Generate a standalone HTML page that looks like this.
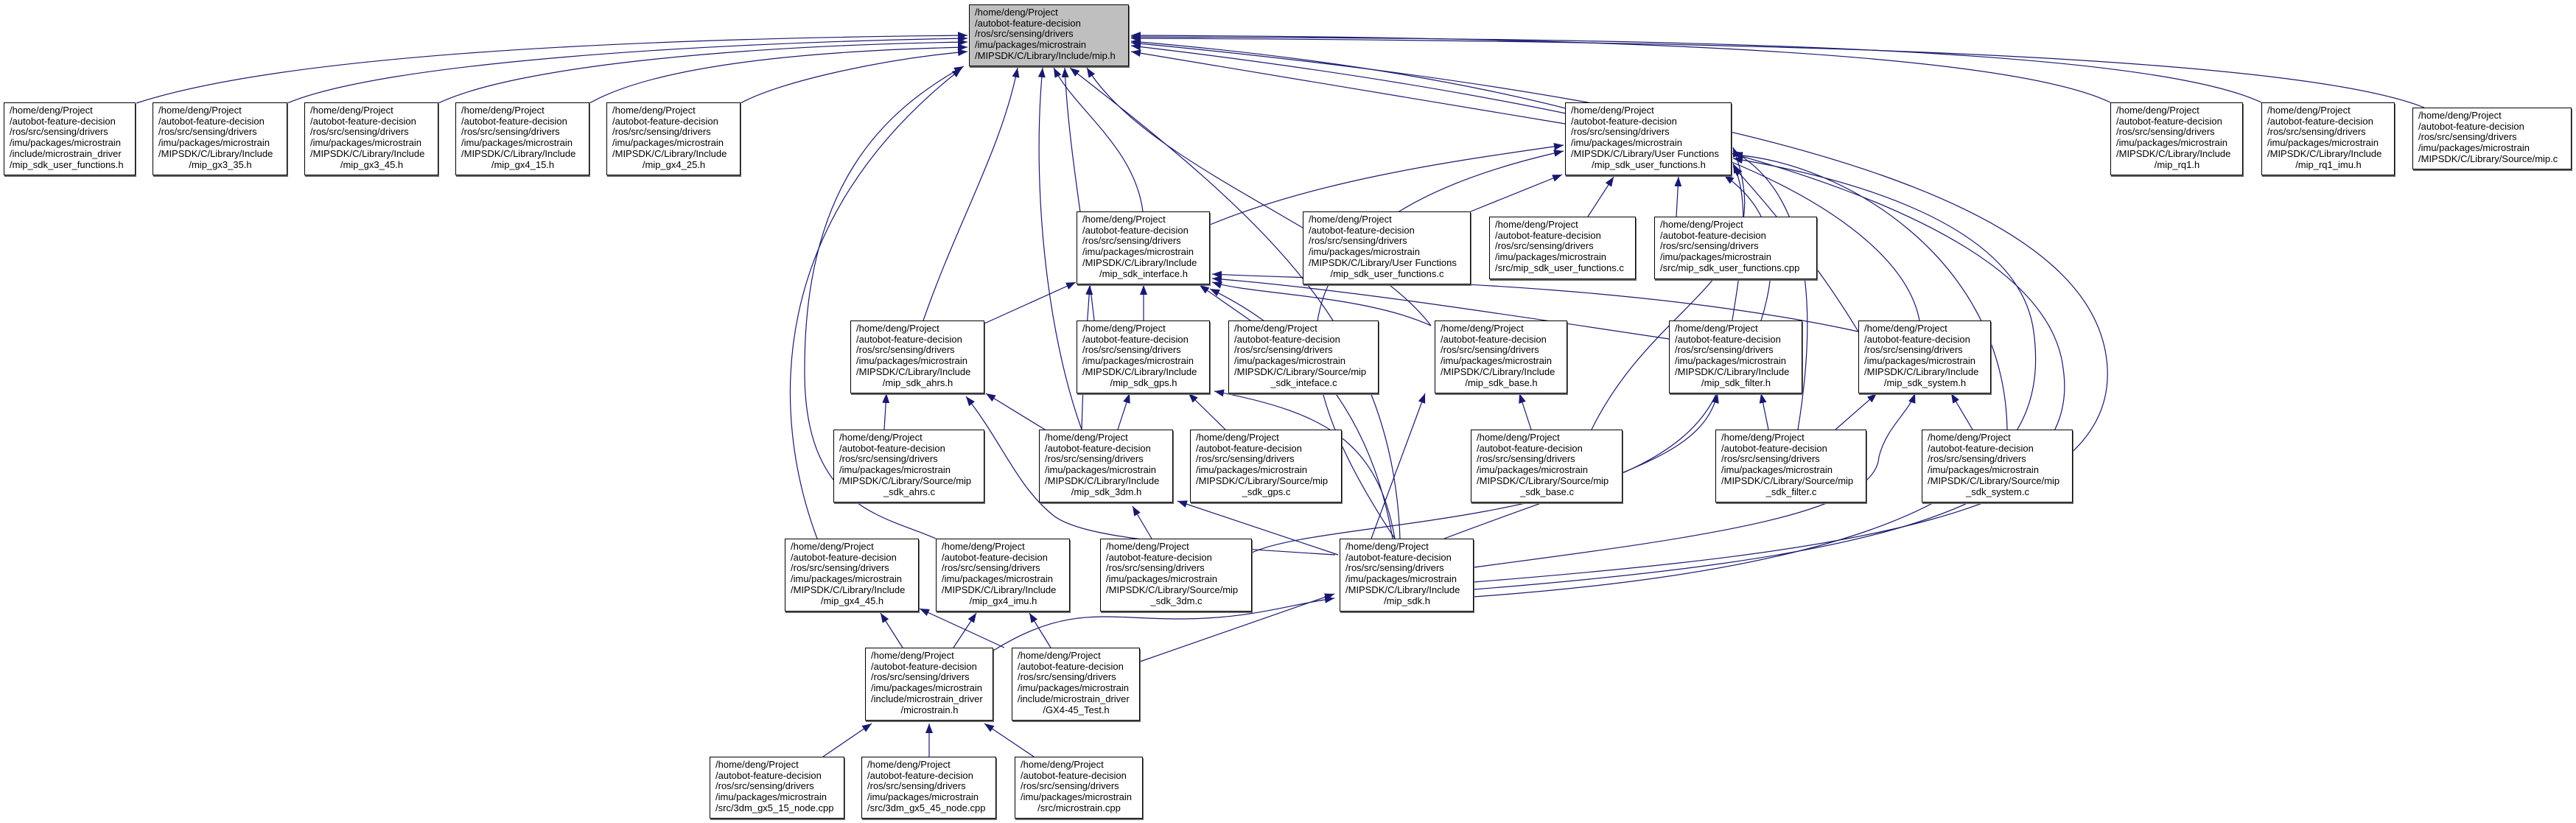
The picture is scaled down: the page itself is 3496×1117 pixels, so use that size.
<!DOCTYPE html>
<html><head><meta charset="utf-8"><style>
html,body{margin:0;padding:0;background:#fff;}
body{width:3496px;height:1117px;position:relative;overflow:hidden;font-family:"Liberation Sans",Arial,sans-serif;}
.n{position:absolute;box-sizing:border-box;border:1px solid #000;background:#fff;box-shadow:1px 2px 0 #666;font-size:13px;line-height:14.7px;padding:3px 6px 0 7px;white-space:nowrap;color:#000;}
.n.m{background:#bfbfbf;}
.n .c{text-align:center;}
svg{position:absolute;left:0;top:0;}
</style></head><body>
<svg width="3496" height="1117" viewBox="0 0 3496 1117">
<defs><marker id="a" markerUnits="userSpaceOnUse" markerWidth="14" markerHeight="10" refX="13" refY="5" orient="auto"><path d="M0,0 L13,5 L0,10 z" fill="#191970"/></marker></defs>
<g fill="none" stroke="#191970" stroke-width="1.2" marker-end="url(#a)">
<path d="M185,140 C400,70 900,52 1313,48"/>
<path d="M390,140 C520,85 950,58 1313,52"/>
<path d="M595,140 C700,90 1000,62 1313,57"/>
<path d="M800,140 C880,95 1050,70 1313,64"/>
<path d="M1005,140 C1060,110 1200,80 1313,70"/>
<path d="M1109,731 C1045,560 1040,300 1305,93"/>
<path d="M1270,731 C1200,700 1090,690 1092,500 C1092,250 1200,150 1308,90"/>
<path d="M1253,435 C1300,300 1360,200 1381,92"/>
<path d="M1468,583 C1420,450 1400,250 1415,92"/>
<path d="M1485,435 C1470,300 1450,200 1445,92"/>
<path d="M1942,442 C1850,320 1560,230 1475,92"/>
<path d="M1900,731 C1890,450 1720,300 1452,92"/>
<path d="M2124,168 L1535,70"/>
<path d="M2864,139 C2700,60 2000,50 1535,48"/>
<path d="M3069,139 C2900,60 2200,52 1535,50"/>
<path d="M3290,146 C3100,70 2300,55 1535,52"/>
<path d="M2605,435 C2580,300 2300,120 1535,56"/>
<path d="M2000,790 C2500,750 2870,700 2860,500 C2850,300 2500,150 1535,58"/>
<path d="M2000,800 C2500,760 2830,700 2800,500 C2780,330 2450,170 1535,62"/>
<path d="M1551,287 C1540,200 1460,150 1430,92"/>
<path d="M1336,439 L1460,383"/>
<path d="M1468,583 C1470,500 1475,450 1479,387"/>
<path d="M1552,435 L1552,387"/>
<path d="M1697,435 L1628,387"/>
<path d="M1942,442 C1850,400 1700,400 1645,383"/>
<path d="M2265,460 C2000,420 1800,390 1645,378"/>
<path d="M2522,450 C2200,380 1800,380 1645,372"/>
<path d="M1890,731 C1850,500 1700,420 1642,392"/>
<path d="M1642,305 C1800,240 2000,215 2122,197"/>
<path d="M1893,731 C1740,500 1700,300 2122,205"/>
<path d="M1996,287 L2120,237"/>
<path d="M2155,294 L2190,240"/>
<path d="M2275,294 L2278,240"/>
<path d="M2160,583 C2250,400 2420,380 2352,200"/>
<path d="M2440,583 C2470,400 2450,260 2352,205"/>
<path d="M2724,583 C2720,350 2500,220 2352,210"/>
<path d="M2000,810 C2700,760 2780,600 2760,450 C2740,300 2500,240 2352,215"/>
<path d="M1697,751 C1800,700 2300,720 2340,500 C2360,380 2380,280 2352,222"/>
<path d="M2390,435 C2420,340 2400,280 2340,238"/>
<path d="M2522,450 C2480,380 2420,300 2352,226"/>
<path d="M1200,583 L1203,534"/>
<path d="M1418,583 L1338,534"/>
<path d="M1517,583 L1533,534"/>
<path d="M1663,583 L1613,534"/>
<path d="M2078,583 L2062,534"/>
<path d="M2400,583 L2390,534"/>
<path d="M1960,731 C2200,640 2310,620 2331,534"/>
<path d="M2491,583 L2547,534"/>
<path d="M2677,583 L2648,534"/>
<path d="M2000,770 C2300,730 2545,700 2550,620 C2560,580 2590,560 2599,534"/>
<path d="M1861,731 L1934,534"/>
<path d="M1893,731 C1870,600 1800,560 1648,531"/>
<path d="M1812,753 C1600,740 1470,730 1430,700 C1380,660 1360,600 1311,538"/>
<path d="M1816,753 L1598,680"/>
<path d="M1563,731 L1537,687"/>
<path d="M1225,879 L1195,832"/>
<path d="M1294,879 L1325,832"/>
<path d="M1348,883 C1450,820 1500,840 1600,840 C1700,840 1750,820 1811,812"/>
<path d="M1363,879 L1248,826"/>
<path d="M1426,879 L1397,832"/>
<path d="M1547,898 L1811,806"/>
<path d="M1117,1027 L1183,982"/>
<path d="M1261,1027 L1261,982"/>
<path d="M1403,1027 L1336,982"/>
</g>
</svg>

<div class="n m" style="left:1315px;top:6px;width:217px;height:84px">/home/deng/Project<br>/autobot-feature-decision<br>/ros/src/sensing/drivers<br>/imu/packages/microstrain<br>/MIPSDK/C/Library/Include/mip.h</div>

<div class="n" style="left:5px;top:139px;width:179px;height:99px">/home/deng/Project<br>/autobot-feature-decision<br>/ros/src/sensing/drivers<br>/imu/packages/microstrain<br>/include/microstrain_driver<br>/mip_sdk_user_functions.h</div>
<div class="n" style="left:207px;top:139px;width:183px;height:99px">/home/deng/Project<br>/autobot-feature-decision<br>/ros/src/sensing/drivers<br>/imu/packages/microstrain<br>/MIPSDK/C/Library/Include<div class="c">/mip_gx3_35.h</div></div>
<div class="n" style="left:413px;top:139px;width:182px;height:99px">/home/deng/Project<br>/autobot-feature-decision<br>/ros/src/sensing/drivers<br>/imu/packages/microstrain<br>/MIPSDK/C/Library/Include<div class="c">/mip_gx3_45.h</div></div>
<div class="n" style="left:618px;top:139px;width:182px;height:99px">/home/deng/Project<br>/autobot-feature-decision<br>/ros/src/sensing/drivers<br>/imu/packages/microstrain<br>/MIPSDK/C/Library/Include<div class="c">/mip_gx4_15.h</div></div>
<div class="n" style="left:823px;top:139px;width:182px;height:99px">/home/deng/Project<br>/autobot-feature-decision<br>/ros/src/sensing/drivers<br>/imu/packages/microstrain<br>/MIPSDK/C/Library/Include<div class="c">/mip_gx4_25.h</div></div>
<div class="n" style="left:2124px;top:139px;width:226px;height:99px">/home/deng/Project<br>/autobot-feature-decision<br>/ros/src/sensing/drivers<br>/imu/packages/microstrain<br>/MIPSDK/C/Library/User Functions<div class="c">/mip_sdk_user_functions.h</div></div>
<div class="n" style="left:2864px;top:139px;width:180px;height:99px">/home/deng/Project<br>/autobot-feature-decision<br>/ros/src/sensing/drivers<br>/imu/packages/microstrain<br>/MIPSDK/C/Library/Include<div class="c">/mip_rq1.h</div></div>
<div class="n" style="left:3069px;top:139px;width:181px;height:99px">/home/deng/Project<br>/autobot-feature-decision<br>/ros/src/sensing/drivers<br>/imu/packages/microstrain<br>/MIPSDK/C/Library/Include<div class="c">/mip_rq1_imu.h</div></div>
<div class="n" style="left:3274px;top:146px;width:216px;height:84px">/home/deng/Project<br>/autobot-feature-decision<br>/ros/src/sensing/drivers<br>/imu/packages/microstrain<br>/MIPSDK/C/Library/Source/mip.c</div>

<div class="n" style="left:1461px;top:287px;width:181px;height:99px">/home/deng/Project<br>/autobot-feature-decision<br>/ros/src/sensing/drivers<br>/imu/packages/microstrain<br>/MIPSDK/C/Library/Include<div class="c">/mip_sdk_interface.h</div></div>
<div class="n" style="left:1768px;top:287px;width:228px;height:99px">/home/deng/Project<br>/autobot-feature-decision<br>/ros/src/sensing/drivers<br>/imu/packages/microstrain<br>/MIPSDK/C/Library/User Functions<div class="c">/mip_sdk_user_functions.c</div></div>
<div class="n" style="left:2021px;top:294px;width:199px;height:85px">/home/deng/Project<br>/autobot-feature-decision<br>/ros/src/sensing/drivers<br>/imu/packages/microstrain<br>/src/mip_sdk_user_functions.c</div>
<div class="n" style="left:2245px;top:294px;width:221px;height:85px">/home/deng/Project<br>/autobot-feature-decision<br>/ros/src/sensing/drivers<br>/imu/packages/microstrain<br>/src/mip_sdk_user_functions.cpp</div>

<div class="n" style="left:1154px;top:435px;width:182px;height:99px">/home/deng/Project<br>/autobot-feature-decision<br>/ros/src/sensing/drivers<br>/imu/packages/microstrain<br>/MIPSDK/C/Library/Include<div class="c">/mip_sdk_ahrs.h</div></div>
<div class="n" style="left:1461px;top:435px;width:181px;height:99px">/home/deng/Project<br>/autobot-feature-decision<br>/ros/src/sensing/drivers<br>/imu/packages/microstrain<br>/MIPSDK/C/Library/Include<div class="c">/mip_sdk_gps.h</div></div>
<div class="n" style="left:1667px;top:435px;width:204px;height:99px">/home/deng/Project<br>/autobot-feature-decision<br>/ros/src/sensing/drivers<br>/imu/packages/microstrain<br>/MIPSDK/C/Library/Source/mip<div class="c">_sdk_inteface.c</div></div>
<div class="n" style="left:1947px;top:435px;width:180px;height:99px">/home/deng/Project<br>/autobot-feature-decision<br>/ros/src/sensing/drivers<br>/imu/packages/microstrain<br>/MIPSDK/C/Library/Include<div class="c">/mip_sdk_base.h</div></div>
<div class="n" style="left:2265px;top:435px;width:181px;height:99px">/home/deng/Project<br>/autobot-feature-decision<br>/ros/src/sensing/drivers<br>/imu/packages/microstrain<br>/MIPSDK/C/Library/Include<div class="c">/mip_sdk_filter.h</div></div>
<div class="n" style="left:2522px;top:435px;width:180px;height:99px">/home/deng/Project<br>/autobot-feature-decision<br>/ros/src/sensing/drivers<br>/imu/packages/microstrain<br>/MIPSDK/C/Library/Include<div class="c">/mip_sdk_system.h</div></div>

<div class="n" style="left:1131px;top:583px;width:205px;height:99px">/home/deng/Project<br>/autobot-feature-decision<br>/ros/src/sensing/drivers<br>/imu/packages/microstrain<br>/MIPSDK/C/Library/Source/mip<div class="c">_sdk_ahrs.c</div></div>
<div class="n" style="left:1410px;top:583px;width:182px;height:99px">/home/deng/Project<br>/autobot-feature-decision<br>/ros/src/sensing/drivers<br>/imu/packages/microstrain<br>/MIPSDK/C/Library/Include<div class="c">/mip_sdk_3dm.h</div></div>
<div class="n" style="left:1615px;top:583px;width:206px;height:99px">/home/deng/Project<br>/autobot-feature-decision<br>/ros/src/sensing/drivers<br>/imu/packages/microstrain<br>/MIPSDK/C/Library/Source/mip<div class="c">_sdk_gps.c</div></div>
<div class="n" style="left:1996px;top:583px;width:206px;height:99px">/home/deng/Project<br>/autobot-feature-decision<br>/ros/src/sensing/drivers<br>/imu/packages/microstrain<br>/MIPSDK/C/Library/Source/mip<div class="c">_sdk_base.c</div></div>
<div class="n" style="left:2328px;top:583px;width:205px;height:99px">/home/deng/Project<br>/autobot-feature-decision<br>/ros/src/sensing/drivers<br>/imu/packages/microstrain<br>/MIPSDK/C/Library/Source/mip<div class="c">_sdk_filter.c</div></div>
<div class="n" style="left:2608px;top:583px;width:205px;height:99px">/home/deng/Project<br>/autobot-feature-decision<br>/ros/src/sensing/drivers<br>/imu/packages/microstrain<br>/MIPSDK/C/Library/Source/mip<div class="c">_sdk_system.c</div></div>

<div class="n" style="left:1065px;top:731px;width:182px;height:99px">/home/deng/Project<br>/autobot-feature-decision<br>/ros/src/sensing/drivers<br>/imu/packages/microstrain<br>/MIPSDK/C/Library/Include<div class="c">/mip_gx4_45.h</div></div>
<div class="n" style="left:1270px;top:731px;width:182px;height:99px">/home/deng/Project<br>/autobot-feature-decision<br>/ros/src/sensing/drivers<br>/imu/packages/microstrain<br>/MIPSDK/C/Library/Include<div class="c">/mip_gx4_imu.h</div></div>
<div class="n" style="left:1493px;top:731px;width:206px;height:99px">/home/deng/Project<br>/autobot-feature-decision<br>/ros/src/sensing/drivers<br>/imu/packages/microstrain<br>/MIPSDK/C/Library/Source/mip<div class="c">_sdk_3dm.c</div></div>
<div class="n" style="left:1818px;top:731px;width:182px;height:99px">/home/deng/Project<br>/autobot-feature-decision<br>/ros/src/sensing/drivers<br>/imu/packages/microstrain<br>/MIPSDK/C/Library/Include<div class="c">/mip_sdk.h</div></div>

<div class="n" style="left:1174px;top:879px;width:174px;height:99px">/home/deng/Project<br>/autobot-feature-decision<br>/ros/src/sensing/drivers<br>/imu/packages/microstrain<br>/include/microstrain_driver<div class="c">/microstrain.h</div></div>
<div class="n" style="left:1373px;top:879px;width:174px;height:99px">/home/deng/Project<br>/autobot-feature-decision<br>/ros/src/sensing/drivers<br>/imu/packages/microstrain<br>/include/microstrain_driver<div class="c">/GX4-45_Test.h</div></div>

<div class="n" style="left:963px;top:1027px;width:183px;height:84px">/home/deng/Project<br>/autobot-feature-decision<br>/ros/src/sensing/drivers<br>/imu/packages/microstrain<br>/src/3dm_gx5_15_node.cpp</div>
<div class="n" style="left:1169px;top:1027px;width:183px;height:84px">/home/deng/Project<br>/autobot-feature-decision<br>/ros/src/sensing/drivers<br>/imu/packages/microstrain<br>/src/3dm_gx5_45_node.cpp</div>
<div class="n" style="left:1377px;top:1027px;width:174px;height:84px">/home/deng/Project<br>/autobot-feature-decision<br>/ros/src/sensing/drivers<br>/imu/packages/microstrain<div class="c">/src/microstrain.cpp</div></div>
</body></html>
